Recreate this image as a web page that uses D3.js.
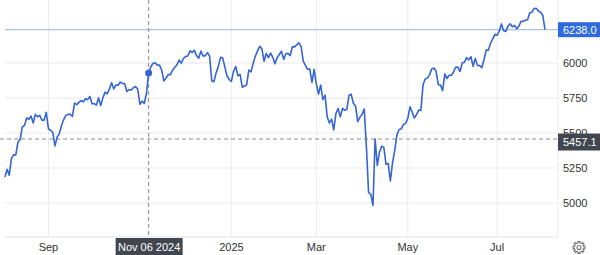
<!DOCTYPE html>
<html>
<head>
<meta charset="utf-8">
<script src="https://cdn.jsdelivr.net/npm/d3@7"></script>
<style>
  html, body { margin: 0; padding: 0; background: #fff; }
  svg { display: block; font-family: "Liberation Sans", Arial, sans-serif; }
</style>
</head>
<body>
<div id="chart"></div>
<script>
// daily closes, Aug 5 2024 - Aug 1 2025
var dates = [
  "2024-08-05","2024-08-06","2024-08-07","2024-08-08","2024-08-09","2024-08-12","2024-08-13","2024-08-14","2024-08-15","2024-08-16",
  "2024-08-19","2024-08-20","2024-08-21","2024-08-22","2024-08-23","2024-08-26","2024-08-27","2024-08-28","2024-08-29","2024-08-30",
  "2024-09-03","2024-09-04","2024-09-05","2024-09-06","2024-09-09","2024-09-10","2024-09-11","2024-09-12","2024-09-13","2024-09-16",
  "2024-09-17","2024-09-18","2024-09-19","2024-09-20","2024-09-23","2024-09-24","2024-09-25","2024-09-26","2024-09-27","2024-09-30",
  "2024-10-01","2024-10-02","2024-10-03","2024-10-04","2024-10-07","2024-10-08","2024-10-09","2024-10-10","2024-10-11","2024-10-14",
  "2024-10-15","2024-10-16","2024-10-17","2024-10-18","2024-10-21","2024-10-22","2024-10-23","2024-10-24","2024-10-25","2024-10-28",
  "2024-10-29","2024-10-30","2024-10-31",
  "2024-11-01","2024-11-04","2024-11-05","2024-11-06","2024-11-07","2024-11-08","2024-11-11","2024-11-12","2024-11-13","2024-11-14",
  "2024-11-15","2024-11-18","2024-11-19","2024-11-20","2024-11-21","2024-11-22","2024-11-25","2024-11-26","2024-11-27","2024-11-29",
  "2024-12-02","2024-12-03","2024-12-04","2024-12-05","2024-12-06","2024-12-09","2024-12-10","2024-12-11","2024-12-12","2024-12-13",
  "2024-12-16","2024-12-17","2024-12-18","2024-12-19","2024-12-20","2024-12-23","2024-12-24","2024-12-26","2024-12-27","2024-12-30",
  "2024-12-31",
  "2025-01-02","2025-01-03","2025-01-06","2025-01-07","2025-01-08","2025-01-10","2025-01-13","2025-01-14","2025-01-15","2025-01-16",
  "2025-01-17","2025-01-21","2025-01-22","2025-01-23","2025-01-24","2025-01-27","2025-01-28","2025-01-29","2025-01-30","2025-01-31",
  "2025-02-03","2025-02-04","2025-02-05","2025-02-06","2025-02-07","2025-02-10","2025-02-11","2025-02-12","2025-02-13","2025-02-14",
  "2025-02-18","2025-02-19","2025-02-20","2025-02-21","2025-02-24","2025-02-25","2025-02-26","2025-02-27","2025-02-28",
  "2025-03-03","2025-03-04","2025-03-05","2025-03-06","2025-03-07","2025-03-10","2025-03-11","2025-03-12","2025-03-13","2025-03-14",
  "2025-03-17","2025-03-18","2025-03-19","2025-03-20","2025-03-21","2025-03-24","2025-03-25","2025-03-26","2025-03-27","2025-03-28",
  "2025-03-31",
  "2025-04-01","2025-04-02","2025-04-03","2025-04-04","2025-04-07","2025-04-08","2025-04-09","2025-04-10","2025-04-11","2025-04-14",
  "2025-04-15","2025-04-16","2025-04-17","2025-04-21","2025-04-22","2025-04-23","2025-04-24","2025-04-25","2025-04-28","2025-04-29",
  "2025-04-30",
  "2025-05-01","2025-05-02","2025-05-05","2025-05-06","2025-05-07","2025-05-08","2025-05-09","2025-05-12","2025-05-13","2025-05-14",
  "2025-05-15","2025-05-16","2025-05-19","2025-05-20","2025-05-21","2025-05-22","2025-05-23","2025-05-27","2025-05-28","2025-05-29",
  "2025-05-30",
  "2025-06-02","2025-06-03","2025-06-04","2025-06-05","2025-06-06","2025-06-09","2025-06-10","2025-06-11","2025-06-12","2025-06-13",
  "2025-06-16","2025-06-17","2025-06-18","2025-06-20","2025-06-23","2025-06-24","2025-06-25","2025-06-26","2025-06-27","2025-06-30",
  "2025-07-01","2025-07-02","2025-07-03","2025-07-07","2025-07-08","2025-07-09","2025-07-10","2025-07-11","2025-07-14","2025-07-15",
  "2025-07-16","2025-07-17","2025-07-18","2025-07-21","2025-07-22","2025-07-23","2025-07-24","2025-07-25","2025-07-28","2025-07-29",
  "2025-07-30","2025-07-31","2025-08-01"
];

var closes = [
  5186,5240,5199,5319,5344,5344,5434,5455,5543,5554,
  5608,5597,5621,5571,5634,5616,5626,5592,5592,5648,
  5529,5520,5503,5408,5471,5496,5554,5596,5626,5633,
  5634,5618,5714,5703,5719,5732,5722,5745,5738,5762,
  5709,5710,5699,5751,5696,5751,5792,5780,5815,5859,
  5815,5843,5841,5864,5853,5851,5797,5809,5808,5823,
  5832,5813,5705,
  5728,5712,5782,5929,5973,5996,6001,5984,5985,5949,
  5871,5893,5917,5917,5949,5969,5987,6021,5999,6032,
  6047,6050,6087,6075,6090,6053,6034,6085,6051,6051,
  6074,6050,5872,5867,5931,5974,6040,6037,5971,5907,
  5882,
  5869,5942,5975,5909,5918,5827,5836,5843,5950,5937,
  5997,6049,6086,6119,6101,6012,6068,6039,6071,6041,
  5994,6038,6061,6084,6026,6066,6069,6052,6115,6115,
  6129,6144,6118,6013,5983,5955,5956,5861,5955,
  5850,5778,5843,5739,5770,5614,5572,5599,5522,5639,
  5675,5615,5675,5663,5668,5768,5777,5712,5693,5581,
  5612,
  5633,5671,5397,5074,5062,4983,5457,5268,5363,5406,
  5397,5276,5283,5158,5288,5376,5485,5525,5529,5561,
  5569,
  5604,5687,5650,5607,5631,5664,5660,5844,5886,5892,
  5917,5958,5964,5941,5845,5842,5803,5922,5889,5912,
  5912,
  5936,5970,5971,5939,6000,6006,6038,6022,6045,5977,
  6033,5983,5981,5967,6025,6092,6092,6141,6173,6205,
  6198,6227,6279,6230,6226,6263,6280,6259,6269,6244,
  6264,6297,6297,6306,6309,6359,6363,6389,6390,6371,
  6362,6339,6238
];

// axis labels
var yTicks = [5000, 5250, 5500, 5750, 6000];
var xTickMonths = ["2024-09-01", "2025-01-01", "2025-03-01", "2025-05-01", "2025-07-01"];
var xTickLabels = ["Sep", "2025", "Mar", "May", "Jul"];

// crosshair
var hoverDate = "2024-11-06";
var hoverLabel = "Nov 06 2024";
var cursorValue = 5457.1;

var width = 600, height = 255,
    plotLeft = 5, plotRight = 558, plotBottom = 237;

var svg = d3.select("#chart").append("svg")
    .attr("width", width)
    .attr("height", height);

// x axis runs on trading days, not calendar days
var x = d3.scaleLinear()
    .domain([0, dates.length - 1])
    .range([4.9, 545]);

var y = d3.scaleLinear()
    .domain([5000, 6000])
    .range([203, 63]);

var tickIdx = xTickMonths.map(function(m) {
  return dates.findIndex(function(d) { return d >= m; });
});

// grid
svg.append("g").selectAll("line")
  .data(yTicks)
  .enter().append("line")
    .attr("x1", plotLeft).attr("x2", plotRight)
    .attr("y1", function(d) { return y(d); })
    .attr("y2", function(d) { return y(d); })
    .style("stroke", "#e9e9e9");

svg.append("g").selectAll("line")
  .data(tickIdx)
  .enter().append("line")
    .attr("x1", function(d) { return x(d); })
    .attr("x2", function(d) { return x(d); })
    .attr("y1", 0).attr("y2", plotBottom)
    .style("stroke", "#ececec");

svg.append("line")
  .attr("x1", plotRight).attr("x2", plotRight)
  .attr("y1", 0).attr("y2", plotBottom)
  .style("stroke", "#ececec");

svg.append("line")
  .attr("x1", plotLeft).attr("x2", plotRight)
  .attr("y1", plotBottom).attr("y2", plotBottom)
  .style("stroke", "#e2e2e2");

// y tick labels
svg.append("g").selectAll("text")
  .data(yTicks)
  .enter().append("text")
    .attr("x", 563)
    .attr("y", function(d) { return y(d); })
    .attr("dy", "0.35em")
    .attr("font-size", "11px")
    .style("fill", "#333")
    .text(function(d) { return d; });

// x tick labels
svg.append("g").selectAll("text")
  .data(tickIdx)
  .enter().append("text")
    .attr("x", function(d) { return x(d); })
    .attr("y", 247)
    .attr("dy", "0.35em")
    .attr("text-anchor", "middle")
    .attr("font-size", "11px")
    .style("fill", "#333")
    .text(function(d, i) { return xTickLabels[i]; });

// last value line
var last = closes[closes.length - 1];
svg.append("line")
  .attr("x1", plotLeft).attr("x2", plotRight)
  .attr("y1", y(last)).attr("y2", y(last))
  .style("stroke", "#aac3e8")
  .style("stroke-width", 1.3);

// crosshair lines
var hi = dates.indexOf(hoverDate);
svg.append("line")
  .attr("x1", x(hi)).attr("x2", x(hi))
  .attr("y1", 0).attr("y2", plotBottom)
  .style("stroke", "#8a8a8a")
  .style("stroke-dasharray", "4,3");

svg.append("line")
  .attr("x1", 0).attr("x2", plotRight)
  .attr("y1", y(cursorValue)).attr("y2", y(cursorValue))
  .style("stroke", "#8a8a8a")
  .style("stroke-dasharray", "4,3");

// the series
var line = d3.line()
  .x(function(d, i) { return x(i); })
  .y(function(d) { return y(d); });

svg.append("path")
  .datum(closes)
  .attr("d", line)
  .style("fill", "none")
  .style("stroke", "#3464d6")
  .style("stroke-width", 1.6)
  .style("stroke-linejoin", "round");

svg.append("circle")
  .attr("cx", x(hi))
  .attr("cy", y(closes[hi]))
  .attr("r", 3.5)
  .style("fill", "#3464d6");

// value boxes on the right
function valueBox(v, fill, label, shift, h) {
  var cy = y(v) + shift;
  var g = svg.append("g");
  g.append("rect")
    .attr("x", plotRight).attr("y", cy - h / 2)
    .attr("width", width - plotRight).attr("height", h)
    .style("fill", fill);
  g.append("text")
    .attr("x", 563).attr("y", cy)
    .attr("dy", "0.35em")
    .attr("font-size", "11px")
    .style("fill", "#fff")
    .text(label);
}
valueBox(last, "#2f6ae0", d3.format(".1f")(last), 0, 15);
valueBox(cursorValue, "#41464f", d3.format(".1f")(cursorValue), 3, 17);

// date box at bottom
var dg = svg.append("g");
dg.append("rect")
  .attr("x", x(hi) - 33).attr("y", 238)
  .attr("width", 67).attr("height", 17)
  .style("fill", "#41464f");
dg.append("text")
  .attr("x", x(hi) + 0.5).attr("y", 247)
  .attr("dy", "0.35em")
  .attr("text-anchor", "middle")
  .attr("font-size", "11px")
  .style("fill", "#fff")
  .text(hoverLabel);

// settings gear
var gear = [];
for (var k = 0; k < 16; k++) {
  var a = k * Math.PI / 8;
  var r = (k % 2 === 0) ? 6 : 4.6;
  gear.push([Math.cos(a - 0.2) * r, Math.sin(a - 0.2) * r]);
  gear.push([Math.cos(a + 0.2) * r, Math.sin(a + 0.2) * r]);
}
var gg = svg.append("g").attr("transform", "translate(579,247.5)");
gg.append("path")
  .attr("d", d3.line().curve(d3.curveLinearClosed)(gear))
  .style("fill", "none")
  .style("stroke", "#777")
  .style("stroke-width", 1.1);
gg.append("circle")
  .attr("r", 2)
  .style("fill", "none")
  .style("stroke", "#777")
  .style("stroke-width", 1.1);
</script>
</body>
</html>
